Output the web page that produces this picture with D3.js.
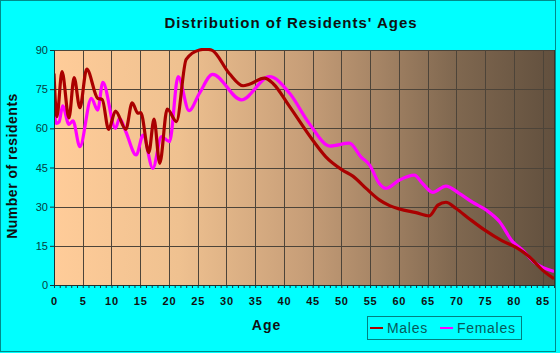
<!DOCTYPE html>
<html>
<head>
<meta charset="utf-8">
<script src="https://cdn.jsdelivr.net/npm/d3@7"></script>
<style>
  body { margin: 0; background: #00ffff; }
  svg { display: block; font-family: Arial, "Liberation Sans", sans-serif; }
</style>
</head>
<body>
<div id="chart"></div>
<script>
// values
const maleAges = [0, 0.5, 1.4, 2.6, 3.5, 4.5, 5.7, 7.6, 8.4, 9.5, 10.7, 12.5, 13.6, 14.6, 15.1, 16.5, 17.4, 18.4, 19.7, 21.3, 23, 25.3, 26.4, 27.4, 30.5, 32.9, 34, 36.6, 38.1, 41, 45, 47.3, 50.2, 52, 54.3, 56.6, 58.4, 60.1, 63, 65.3, 66.8, 68.2, 69.9, 72.3, 74.9, 78, 80.4, 82.7, 85, 87];
const maleCounts = [81, 64.5, 81.7, 64, 79.4, 67.9, 82.7, 71.5, 71, 59.6, 66.6, 59.6, 69.8, 65.8, 66, 50.7, 63.5, 46.6, 67.4, 62.6, 86.4, 90, 90.3, 90, 81, 76.3, 76.9, 79.2, 77.2, 68.3, 55.5, 49.1, 44, 41.7, 37, 32.6, 30.4, 29.1, 27.7, 26.5, 30.6, 31.7, 29.4, 25.3, 21.1, 16.9, 14.4, 10.8, 5.7, 2.4];

const femaleAges = [0, 0.4, 0.9, 1.5, 2.6, 3.3, 4.5, 6.5, 7.6, 8.5, 10.7, 11.4, 12.5, 14.3, 15.5, 17.2, 18.7, 20.1, 21.6, 23.5, 25.3, 27.6, 32.6, 37.5, 41, 44.4, 48, 51.4, 53.4, 54.9, 56.6, 57.8, 60.1, 62.7, 64.1, 65.9, 68.2, 70.5, 72.8, 75.2, 77.5, 79.8, 81.5, 83.8, 87];
const femaleCounts = [68.3, 61.9, 62.5, 68.6, 61.5, 62.9, 53, 71.5, 67, 77.6, 60, 63.8, 58.7, 49.8, 57.4, 44.7, 56.8, 54.9, 79.8, 66.8, 73.4, 80.7, 70.9, 79.8, 73.4, 61.9, 53.2, 54.3, 49.1, 46, 38.9, 37, 40.2, 42.1, 38.9, 35.5, 37.9, 35.1, 31.7, 28.7, 24.3, 16.6, 13.4, 8.3, 5.2];

const xTicks = d3.range(0, 90, 5);
const yTicks = [0, 15, 30, 45, 60, 75, 90];

const width = 560, height = 353;
const plotL = 54, plotR = 554, plotT = 50, plotB = 285;

const x = d3.scaleLinear().domain([0, 87]).range([plotL, plotR]);
const y = d3.scaleLinear().domain([0, 90]).range([plotB, plotT]);

const svg = d3.select("#chart").append("svg")
  .attr("width", width)
  .attr("height", height);

svg.append("rect")
  .attr("x", 0.5).attr("y", 0.5)
  .attr("width", 555).attr("height", 351)
  .attr("fill", "#00ffff")
  .attr("stroke", "#008b8b");

const defs = svg.append("defs");
const grad = defs.append("linearGradient")
  .attr("id", "bg")
  .attr("x1", "0%").attr("x2", "100%").attr("y1", "0%").attr("y2", "0%");
[[0, "#ffcc99"], [0.25, "#efc190"], [0.5, "#c79e78"], [0.65, "#a58465"], [0.8, "#806850"], [1, "#62503e"]]
  .forEach(s => grad.append("stop").attr("offset", s[0]).attr("stop-color", s[1]));

defs.append("clipPath").attr("id", "plot")
  .append("rect")
  .attr("x", plotL).attr("y", plotT - 2)
  .attr("width", plotR - plotL).attr("height", plotB - plotT + 2);

svg.append("rect")
  .attr("x", plotL).attr("y", plotT)
  .attr("width", plotR - plotL).attr("height", plotB - plotT)
  .attr("fill", "url(#bg)");

// grid
svg.append("g")
  .attr("stroke", "#4d4439")
  .attr("stroke-width", 1)
  .selectAll("line")
  .data(xTicks.filter(d => d > 0))
  .join("line")
  .attr("x1", d => Math.round(x(d)) + 0.5).attr("x2", d => Math.round(x(d)) + 0.5)
  .attr("y1", plotT).attr("y2", plotB);

svg.append("g")
  .attr("stroke", "#4d4439")
  .attr("stroke-width", 1)
  .selectAll("line")
  .data(yTicks.filter(d => d > 0))
  .join("line")
  .attr("x1", plotL).attr("x2", plotR)
  .attr("y1", d => Math.round(y(d)) + 0.5).attr("y2", d => Math.round(y(d)) + 0.5);

svg.append("line")
  .attr("x1", plotR + 0.5).attr("x2", plotR + 0.5)
  .attr("y1", plotT).attr("y2", plotB)
  .attr("stroke", "#3d3328");

// lines
const line = d3.line()
  .x(d => x(d[0]))
  .y(d => y(d[1]))
  .curve(d3.curveMonotoneX);

const series = [
  { name: "Males", color: "#aa0000", pts: d3.zip(maleAges, maleCounts) },
  { name: "Females", color: "#ff00ff", pts: d3.zip(femaleAges, femaleCounts) }
];

svg.append("g")
  .attr("clip-path", "url(#plot)")
  .selectAll("path")
  .data(series.slice().reverse())
  .join("path")
  .attr("fill", "none")
  .attr("stroke", d => d.color)
  .attr("stroke-width", 3.2)
  .attr("stroke-linejoin", "round")
  .attr("d", d => line(d.pts));

// axes
const yAxis = svg.append("g")
  .attr("transform", `translate(${plotL},0)`)
  .call(d3.axisLeft(y).tickValues(yTicks).tickSize(4).tickPadding(2));
yAxis.select(".domain").attr("stroke", "#1a3333");
yAxis.selectAll(".tick line").attr("stroke", "#1a3333");
yAxis.selectAll("text")
  .attr("font-size", 11)
  .attr("font-family", "Arial, 'Liberation Sans', sans-serif")
  .attr("fill", "#064040");

const xAxis = svg.append("g")
  .attr("transform", `translate(0,${plotB})`)
  .call(d3.axisBottom(x).tickValues(d3.range(0, 88, 1)).tickSize(3).tickSizeOuter(0)
    .tickFormat(d => d % 5 === 0 ? d : ""));
xAxis.select(".domain").attr("stroke", "#1a3333");
xAxis.selectAll(".tick line").attr("stroke", "#1a3333");
xAxis.selectAll("text")
  .attr("y", 12)
  .attr("font-size", 11)
  .attr("font-weight", "bold")
  .attr("letter-spacing", 0.8)
  .attr("font-family", "Arial, 'Liberation Sans', sans-serif")
  .attr("fill", "#111");

// titles
svg.append("text")
  .attr("x", 291).attr("y", 28)
  .attr("text-anchor", "middle")
  .attr("font-size", 15)
  .attr("font-weight", "bold")
  .attr("letter-spacing", 1)
  .attr("fill", "#111")
  .text("Distribution of Residents' Ages");

svg.append("text")
  .attr("transform", "translate(17,166) rotate(-90)")
  .attr("text-anchor", "middle")
  .attr("font-size", 14)
  .attr("font-weight", "bold")
  .attr("letter-spacing", 0.5)
  .attr("fill", "#111")
  .text("Number of residents");

svg.append("text")
  .attr("x", 266.5).attr("y", 330)
  .attr("text-anchor", "middle")
  .attr("font-size", 14)
  .attr("font-weight", "bold")
  .attr("letter-spacing", 1)
  .attr("fill", "#111")
  .text("Age");

// legend
const legend = svg.append("g");
legend.append("rect")
  .attr("x", 367.5).attr("y", 316.5)
  .attr("width", 154).attr("height", 23)
  .attr("fill", "none")
  .attr("stroke", "#008080");

const items = legend.selectAll("g")
  .data(series)
  .join("g")
  .attr("transform", (d, i) => `translate(${i ? 440 : 370},328)`);
items.append("line")
  .attr("x1", 0).attr("x2", 13)
  .attr("stroke", d => d.color)
  .attr("stroke-width", 2);
items.append("text")
  .attr("x", 17).attr("y", 5)
  .attr("font-size", 14)
  .attr("letter-spacing", 0.7)
  .attr("fill", "#065a5a")
  .text(d => d.name);
</script>
</body>
</html>
